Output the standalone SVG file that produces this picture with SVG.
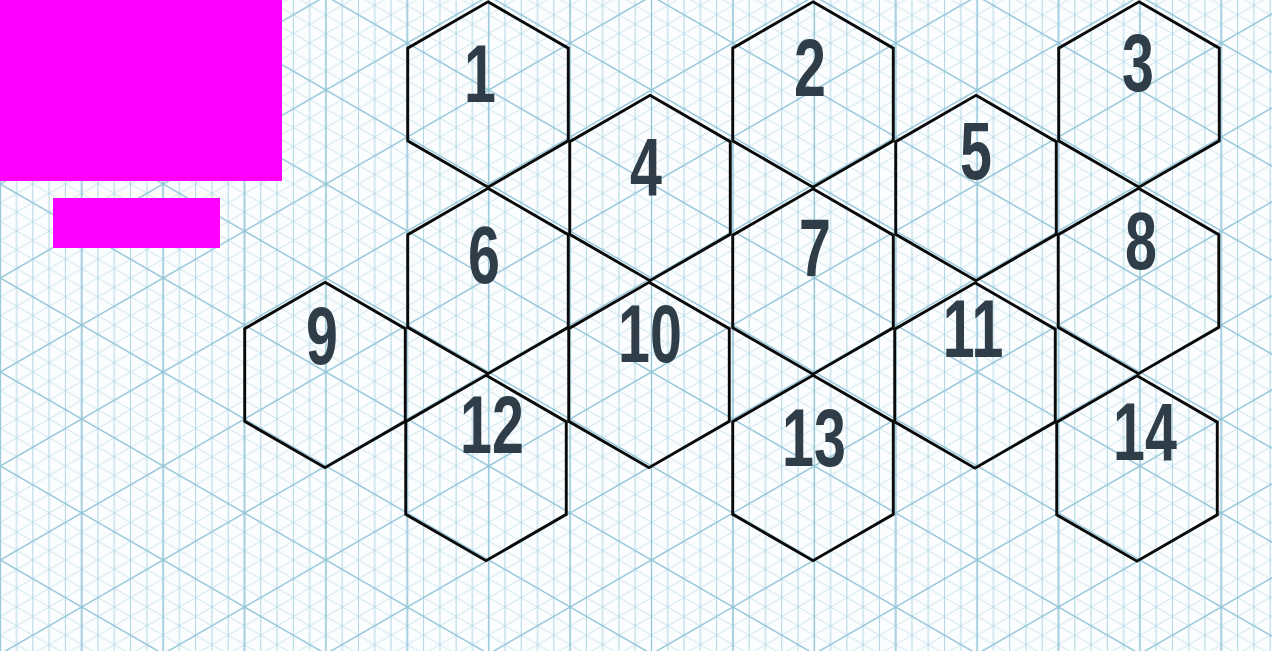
<svg xmlns="http://www.w3.org/2000/svg" xmlns:xlink="http://www.w3.org/1999/xlink" width="1272" height="651" viewBox="0 0 1272 651">
<style>
.fineV{stroke:#a8d2e1;stroke-width:0.9;fill:none}
.fine{stroke:#bddeea;stroke-width:0.8;fill:none}
.major{stroke:#92c5d8;stroke-width:1.3;fill:none}
.hex{fill:none;stroke:#0a0a0a;stroke-width:2.9;stroke-linejoin:miter}
.num{font-family:"Liberation Sans",Arial,sans-serif;font-weight:bold;font-size:82px;fill:#2e3d47;text-anchor:middle}
.mask{fill:#ff00ff}
</style>
<defs>
<pattern id="gFine" patternUnits="userSpaceOnUse" x="81.7" y="513" width="32.56" height="18.8">
<path class="fine" d="M-2,-19.95L34.56,1.153M-2,-1.155L34.56,19.953M-2,17.645L34.56,38.75M-2,1.155L34.56,-19.953M-2,19.953L34.56,-1.153M-2,38.75L34.56,17.645"/>
<path class="fineV" d="M0,-1V20M16.28,-1V20M32.56,-1V20"/>
</pattern>
<pattern id="gMajor" patternUnits="userSpaceOnUse" x="81.7" y="513" width="162.8" height="93.99">
<path class="major" d="M0,-2V96M81.4,-2V96M162.8,-2V96M-5,-96.88L167.8,2.89M-5,-2.887L167.8,96.88M-5,91.1L167.8,190.87M-5,2.887L167.8,-96.88M-5,96.88L167.8,-2.89M-5,190.87L167.8,91.1"/>
</pattern>
<path id="hexShape" class="hex" d="M0,-92.7L80.28,-46.35L80.28,46.35L0,92.7L-80.28,46.35L-80.28,-46.35Z"/>
</defs>
<g id="background">
<rect width="1272" height="651" fill="#fbfdfe"/>
<rect width="1272" height="651" fill="url(#gFine)"/>
<rect width="1272" height="651" fill="url(#gMajor)"/>
<rect class="mask" x="0" y="0" width="282" height="181"/>
<rect class="mask" x="53" y="198" width="167" height="50"/>
</g>
<g id="connectors"/>
<g id="node-1"><use xlink:href="#hexShape" href="#hexShape" x="488" y="94.5"/><text class="num" transform="translate(480,102) scale(0.7,1)">1</text></g>
<g id="node-2"><use xlink:href="#hexShape" href="#hexShape" x="813" y="94.5"/><text class="num" transform="translate(810,96) scale(0.7,1)">2</text></g>
<g id="node-3"><use xlink:href="#hexShape" href="#hexShape" x="1139" y="94.5"/><text class="num" transform="translate(1138,91) scale(0.7,1)">3</text></g>
<g id="node-4"><use xlink:href="#hexShape" href="#hexShape" x="650" y="188"/><text class="num" transform="translate(646,195) scale(0.7,1)">4</text></g>
<g id="node-5"><use xlink:href="#hexShape" href="#hexShape" x="976" y="188"/><text class="num" transform="translate(976,179) scale(0.7,1)">5</text></g>
<g id="node-6"><use xlink:href="#hexShape" href="#hexShape" x="488" y="281"/><text class="num" transform="translate(484,283) scale(0.7,1)">6</text></g>
<g id="node-7"><use xlink:href="#hexShape" href="#hexShape" x="813" y="281.5"/><text class="num" transform="translate(815,276) scale(0.7,1)">7</text></g>
<g id="node-8"><use xlink:href="#hexShape" href="#hexShape" x="1138.5" y="281"/><text class="num" transform="translate(1141,269) scale(0.7,1)">8</text></g>
<g id="node-9"><use xlink:href="#hexShape" href="#hexShape" x="325" y="375"/><text class="num" transform="translate(322,364) scale(0.7,1)">9</text></g>
<g id="node-10"><use xlink:href="#hexShape" href="#hexShape" x="649" y="375"/><text class="num" transform="translate(650,362) scale(0.7,1)">10</text></g>
<g id="node-11"><use xlink:href="#hexShape" href="#hexShape" x="975" y="375.5"/><text class="num" transform="translate(973,357) scale(0.7,1)">11</text></g>
<g id="node-12"><use xlink:href="#hexShape" href="#hexShape" x="486" y="468"/><text class="num" transform="translate(492,453) scale(0.7,1)">12</text></g>
<g id="node-13"><use xlink:href="#hexShape" href="#hexShape" x="813" y="468"/><text class="num" transform="translate(814,466) scale(0.7,1)">13</text></g>
<g id="node-14"><use xlink:href="#hexShape" href="#hexShape" x="1137" y="468.5"/><text class="num" transform="translate(1145,460) scale(0.7,1)">14</text></g>
</svg>
